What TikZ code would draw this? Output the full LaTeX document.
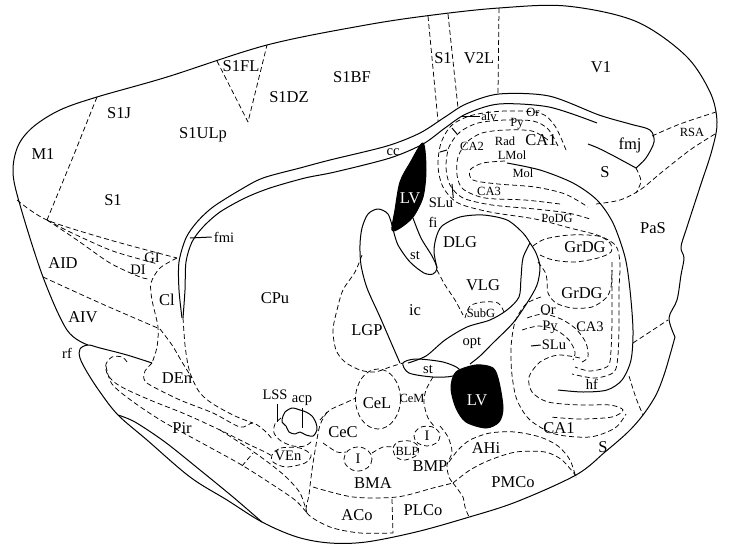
\documentclass[tikz,border=0pt]{standalone}
\usepackage{fontspec}
\setmainfont{Liberation Serif}
\usetikzlibrary{positioning}

\begin{document}
\begin{tikzpicture}[x=1pt, y=-1pt, line join=round,
wall/.style={line width=1pt},
zone/.style={dash pattern=on 5pt off 3pt, line width=0.75pt},
lbl/.style={font=\fontsize{16.5}{16.5}\selectfont, inner sep=0pt},
lblm/.style={font=\fontsize{14.5}{14.5}\selectfont, inner sep=0pt},
lbls/.style={font=\fontsize{12.5}{12.5}\selectfont, inner sep=0pt}]

\useasboundingbox (0,0) rectangle (732,549);

% outline
\draw[wall] plot[smooth, tension=0.55] coordinates {(152,363) (127,355) (100,348) (88,345) (80,349) (80,358) (87,372) (100,392) (118,415) (147,440) (190,477) (227,500) (262,522) (297,537) (330,543) (366,542) (416,532) (466,518) (516,502) (576,475) (605,452) (628,432) (643,415) (656,395) (664,375) (670,355) (675,337)};
\draw[wall] plot[smooth, tension=0.55] coordinates {(675,337) (669,318) (677,300) (681,275) (684,258) (681,247) (687,227) (700,187) (712,150) (717,122) (710,92) (685,55) (635,21) (566,6) (499,8) (433,15) (366,25) (267,45) (167,77) (97,97) (60,110) (33,127) (18,146) (13,172) (20,205) (43,277) (67,330) (88,345)};
\draw[wall] plot[smooth] coordinates {(118,415) (135,422) (165,442) (200,470) (233,497) (262,522)};

%% cortex
\draw[zone] (217,61) -- (248,122) -- (267,45);
\draw[zone] (97,97) -- (73,157) -- (47,220);
\draw[zone] (428,16) -- (438,121);
\draw[zone] (448,14) -- (458,108);
\draw[zone] (499,8) -- (498,94);
\draw[zone] plot[smooth] coordinates {(17,200) (47,220) (110,240) (177,258)};
\draw[zone] plot[smooth] coordinates {(47,220) (70,232) (110,250) (143,260) (158,264)};
\draw[zone] plot[smooth] coordinates {(47,220) (77,240) (110,263) (140,277) (150,279)};
\draw[zone] plot[smooth] coordinates {(177,258) (160,268) (151,283) (152,300) (158,327) (157,347) (152,363)};
\draw[zone] plot[smooth] coordinates {(43,277) (100,303) (160,329)};
\draw[zone] plot[smooth] coordinates {(160,329) (172,345) (182,362) (192,378)};
\draw[zone] plot[smooth] coordinates {(183,318) (185,345) (188,365) (192,378) (200,393) (213,404) (235,416) (253,423)};
\draw[zone] plot[smooth] coordinates {(152,363) (145,371) (144,379) (150,385) (180,400) (213,413) (240,427) (253,423) (265,431) (273,440)};
\draw[zone] plot[smooth, tension=0.6] coordinates {(127,362) (122,357) (112,357) (106,364) (108,375) (120,386) (150,400) (185,414) (220,430) (248,444) (265,452) (272,456)};
\draw[zone] plot[smooth] coordinates {(106,366) (112,384) (132,401) (162,421) (200,442) (240,464) (270,483) (295,500) (307,513)};
\draw[zone] plot[smooth] coordinates {(220,430) (245,446) (265,460) (285,476) (300,493) (307,513)};
\draw[zone] (242,466) -- (253,453);

% white matter
\draw[wall] plot[smooth] coordinates {(182,318) (179,290) (179,262) (186,238) (197,222) (213,207) (240,190) (263,178) (300,168) (330,160) (387,146) (420,133) (445,117) (466,104) (499,94) (549,96) (599,115) (630,124) (650,130) (654,142) (646,158) (636,168)};
\draw[wall] plot[smooth] coordinates {(183,318) (185,290) (186,262) (192,242) (203,227) (220,212) (245,198) (270,188) (305,178) (335,172) (390,158) (423,144) (445,128) (466,114) (499,104) (549,107) (597,123)};
\draw[wall] plot[smooth] coordinates {(636,168) (625,162) (612,155) (598,148) (588,144)};
\draw[zone] plot[smooth] coordinates {(652,136) (680,124) (716,112)};
\draw[zone] plot[smooth] coordinates {(715,134) (690,150) (662,172) (640,190) (620,200) (596,204)};
\draw[zone] plot[smooth] coordinates {(636,168) (641,181) (636,193)};

% ventricles
\fill[draw, wall] plot[smooth cycle] coordinates {(423,143) (426,170) (423,197) (413,217) (400,228) (392,230) (395,210) (400,182) (410,163)};
\fill[draw, wall] plot[smooth cycle] coordinates {(456,372) (476,365) (493,368) (499,382) (503,408) (499,422) (486,428) (466,422) (456,408) (451,388)};

% striatum, thalamus
\draw[wall] plot[smooth] coordinates {(393,229) (388,214) (378,209) (368,214) (362,228) (360,245) (361,265) (367,288) (380,317) (393,347) (400,363)};
\draw[wall] plot[smooth] coordinates {(393,229) (398,245) (410,262) (424,273) (433,274) (437,268) (432,256) (421,238) (413,218)};
\draw[wall] plot[smooth cycle] coordinates {(403,363) (416,359) (443,362) (459,369) (453,376) (433,377) (409,373)};
\draw[wall] plot[smooth] coordinates {(437,268) (434,252) (436,238) (442,226) (460,217) (483,215) (507,220) (523,233) (530,243)};
\draw[wall] plot[smooth] coordinates {(530,243) (536,253) (540,267) (537,285) (527,303) (513,323) (493,343) (480,356) (470,364)};
\draw[wall] plot[smooth] coordinates {(530,243) (523,258) (521,278) (519,297) (507,310) (490,320) (467,327) (445,340) (426,356) (408,363)};
\draw[zone] plot[smooth] coordinates {(437,270) (445,285) (455,300) (463,315)};
\draw[zone] plot[smooth] coordinates {(465,318) (470,306) (483,302) (498,303) (504,312)};
\draw[zone] plot[smooth] coordinates {(362,255) (355,272) (343,290) (337,310) (333,330) (336,350) (345,362) (360,370) (375,372) (390,367) (403,363)};

% hippocampus
\draw[wall] plot[smooth] coordinates {(507,163) (540,170) (573,183) (597,200) (613,223) (625,257) (630,290) (633,330) (631,360) (622,380) (607,390) (583,392) (558,390)};
\draw[zone] plot[smooth] coordinates {(566,150) (555,126) (540,113) (505,111) (473,115) (452,125) (441,143) (438,166) (443,187) (458,203) (490,212) (535,219) (570,228) (600,236) (616,246) (620,264) (619,290) (619,325) (618,355) (614,372) (595,378) (572,374)};
\draw[zone] plot[smooth] coordinates {(558,146) (548,129) (533,121) (505,120) (478,123) (460,132) (449,147) (446,167) (450,185) (463,198) (492,205) (535,209) (568,213) (590,219)};
\draw[zone] plot[smooth] coordinates {(548,140) (532,131) (505,130) (482,133) (467,142) (458,157) (457,175) (463,189) (485,198) (525,200) (560,204)};
\draw[zone] plot[smooth] coordinates {(505,161) (483,163) (470,170) (473,180) (498,184) (535,187) (565,194) (588,207)};
\draw[zone] plot[smooth] coordinates {(533,246) (545,239) (570,235) (598,236) (610,243) (611,252) (598,258) (575,262) (553,260) (540,255)};
\draw[zone] plot[smooth] coordinates {(538,262) (545,272) (547,280) (548,293) (556,303) (572,308) (592,307) (606,298) (611,287) (612,270)};
\draw[zone] plot[smooth] coordinates {(541,297) (526,304) (515,322) (511,348) (512,375) (517,400) (530,420) (555,434) (590,437) (615,428) (626,414)};
\draw[zone] plot[smooth] coordinates {(527,318) (543,314) (561,319) (576,329) (586,343) (588,357) (582,362)};
\draw[zone] plot[smooth] coordinates {(522,330) (539,326) (556,330) (569,340) (575,352) (573,360)};
\draw[zone] plot[smooth] coordinates {(580,358) (558,355) (540,362) (529,377) (532,392) (548,402) (580,405) (610,405) (623,410) (612,417) (580,419) (550,417)};
\draw[zone] plot[smooth] coordinates {(612,262) (612,320) (611,350) (608,366) (590,371) (575,367)};
\draw[zone] (633,343) -- (668,320);
\draw[zone] plot[smooth] coordinates {(629,376) (636,398) (643,415)};
\draw[wall] (440,152) -- (447,150);
\draw[wall] (452,128) -- (457,134);

% amygdala, cortical nuclei
\draw[wall] plot[smooth cycle] coordinates {(285,412) (292,408) (300,410) (306,412) (312,416) (316,423) (317,430) (313,436) (306,435) (300,432) (295,434) (289,432) (286,426) (282,422) (283,416)};
\draw[zone] plot[smooth] coordinates {(281,418) (275,424) (274,433) (281,441) (293,446) (305,446) (312,441)};
\draw[zone] plot[smooth cycle] coordinates {(272,455) (281,448) (300,448) (311,455) (305,463) (286,467) (273,462)};
\draw[zone] plot[smooth] coordinates {(327,412) (320,425) (316,445) (312,470) (309,495) (307,513) (330,527) (360,533) (393,533)};
\draw[zone] (392,499) -- (393,533);
\draw[zone] plot[smooth] coordinates {(313,487) (353,497) (397,497) (433,488) (453,483)};
\draw[zone] plot[smooth] coordinates {(320,420) (330,410) (345,403) (356,398)};
\draw[zone] plot[smooth] coordinates {(323,443) (337,452) (346,452)};
\draw[zone] (378,399) ellipse [x radius=22.5, y radius=30];
\draw[zone] (358,459) ellipse [x radius=14, y radius=12];
\draw[zone] (427,436) ellipse [x radius=13, y radius=10];
\draw[zone] plot[smooth] coordinates {(372,453) (383,447) (393,447)};
\draw[zone] plot[smooth cycle] coordinates {(393,448) (398,442) (410,441) (418,446) (417,455) (405,460) (396,457)};
\draw[zone] plot[smooth] coordinates {(433,377) (426,390) (424,403) (428,418) (435,427)};
\draw[zone] plot[smooth] coordinates {(440,426) (448,437) (452,452) (447,465) (449,477) (453,483)};
\draw[zone] plot[smooth] coordinates {(449,462) (458,450) (470,440) (490,433) (515,432) (540,437) (558,446) (570,460) (576,478)};
\draw[zone] plot[smooth] coordinates {(453,483) (470,470) (490,460) (516,452) (545,452) (562,460) (576,476)};
\draw[zone] plot[smooth] coordinates {(453,483) (463,497) (465,507) (469,517)};

%% labels
\node[lbl] (V1) at (601,67) {V1};
\node[lbl] (V2L) at (479,58) {V2L};
\node[lbl] (S1t) at (443,58) {S1};
\node[lbl] (S1BF) at (352,77) {S1BF};
\node[lbl] (S1FL) at (241,66) {S1FL};
\node[lbl] (S1DZ) at (289,97) {S1DZ};
\node[lbl] (S1J) at (119,113) {S1J};
\node[lbl] (S1ULp) at (203,135) {S1ULp};
\node[lbl] (M1) at (43,154) {M1};
\node[lbl] (S1l) at (113,200) {S1};
\node[lbl] (AID) at (63,263) {AID};
\node[lblm] (GI) at (152,258) {GI};
\node[lblm] (DI) at (138,270) {DI};
\node[lbl] (AIV) at (83,317) {AIV};
\node[lblm] (rf) at (67,353) {rf};
\node[lbl] (Cl) at (167,300) {Cl};
\node[lblm] (fmi) at (224,237) {fmi};
\node[lbl] (CPu) at (275,298) {CPu};
\node[lbl] (DEn) at (177,378) {DEn};
\node[lbl] (Pir) at (182,428) {Pir};
\node[lblm] (LSS) at (275,395) {LSS};
\node[lblm] (acp) at (302,401) {acp};
\node[lblm] (VEn) at (288,456) {VEn};
\node[lbl] (CeC) at (343,432) {CeC};
\node[lbl] (CeL) at (377,403) {CeL};
\node[lbls] (CeM) at (412,398) {CeM};
\node[lblm] (Ia) at (358,459) {I};
\node[lblm] (Ib) at (427,436) {I};
\node[lbls] (BLP) at (407,451) {BLP};
\node[lbl] (BMP) at (430,466) {BMP};
\node[lbl] (BMA) at (373,483) {BMA};
\node[lbl] (ACo) at (357,515) {ACo};
\node[lbl] (PLCo) at (423,510) {PLCo};
\node[lbl] (AHi) at (486,448) {AHi};
\node[lbl] (PMCo) at (513,482) {PMCo};
\node[lbl] (Sb) at (603,447) {S};
\node[lbl] (CA1b) at (559,428) {CA1};
\node[lbl] (LGP) at (367,330) {LGP};
\node[lbl] (ic) at (415,310) {ic};
\node[lblm] (cc) at (393,152) {cc};
\node[lbl, white] (LVa) at (410,198) {LV};
\node[lbl, white] (LVb) at (477,400) {LV};
\node[lblm] (sta) at (415,255) {st};
\node[lblm] (stb) at (428,369) {st};
\node[lblm] (fi) at (433,222) {fi};
\node[lblm] (SLua) at (441,203) {SLu};
\node[lbl] (DLG) at (460,242) {DLG};
\node[lbl] (VLG) at (483,285) {VLG};
\node[lbls] (SubG) at (481,313) {SubG};
\node[lblm] (opt) at (472,343) {opt};
\node[lbls] (alv) at (489,116) {alv};
\node[lbls] (Ora) at (533,112) {Or};
\node[lbls] (Pya) at (517,124) {Py};
\node[lbls] (CA2) at (472,146) {CA2};
\node[lbls] (Rad) at (505,141) {Rad};
\node[lbl] (CA1a) at (541,140) {CA1};
\node[lbls] (LMol) at (512,155) {LMol};
\node[lbls] (Mol) at (523,173) {Mol};
\node[lbls] (CA3a) at (489,191) {CA3};
\node[lbls] (PoDG) at (557,218) {PoDG};
\node[lbl] (GrDGa) at (585,247) {GrDG};
\node[lbl] (GrDGb) at (582,293) {GrDG};
\node[lblm] (Orb) at (548,310) {Or};
\node[lblm] (Pyb) at (550,327) {Py};
\node[lblm] (SLub) at (554,345) {SLu};
\node[lblm] (CA3b) at (590,327) {CA3};
\node[lblm] (hf) at (592,384) {hf};
\node[lbl] (fmj) at (630,145) {fmj};
\node[lbl] (Sa) at (605,172) {S};
\node[lbls] (RSA) at (692,132) {RSA};
\node[lbl] (PaS) at (653,228) {PaS};

% pointer lines
\coordinate (fmitip) at (190,238);
\coordinate (alvtip) at (461,116);
\coordinate (sluatip) at (452,184);
\coordinate (slubtip) at (531,346);
\draw[wall] (fmi.west) ++(-2,0) -- (fmitip);
\draw[wall] (alv.west) ++(-1,0) -- (alvtip);
\draw[wall] (SLua.north east) -- (sluatip);
\draw[wall] (SLub.west) ++(-1,0) -- (slubtip);
\draw[wall] (277,404) -- (277,422);
\draw[wall] (302,408) -- (302,428);
\end{tikzpicture}
\end{document}
